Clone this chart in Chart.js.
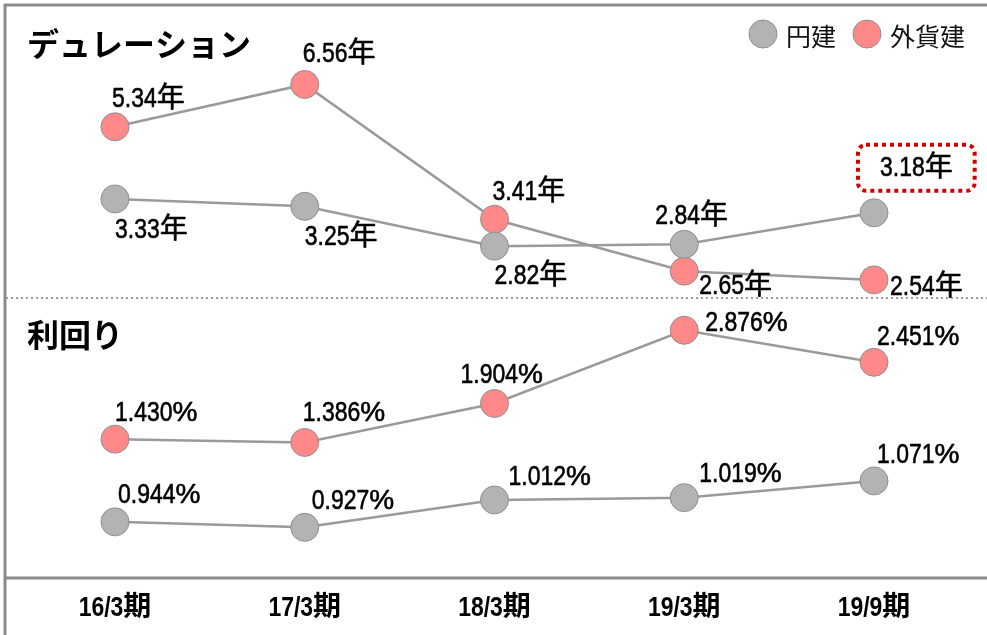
<!DOCTYPE html>
<html>
<head>
<meta charset="utf-8">
<script src="https://cdn.jsdelivr.net/npm/chart.js@4.4.1/dist/chart.umd.min.js"></script>
<style>
html,body{margin:0;padding:0;background:#fff;}
#wrap{position:relative;width:987px;height:635px;}
canvas{display:block;}
</style>
</head>
<body>
<div id="wrap"><canvas id="c" width="987" height="635"></canvas></div>
<script>
// ---- data ----
const categories = ['16/3期', '17/3期', '18/3期', '19/3期', '19/9期'];
const durationYen = [3.33, 3.25, 2.82, 2.84, 3.18];
const durationFx  = [5.34, 6.56, 3.41, 2.65, 2.54];
const yieldYen    = [0.944, 0.927, 1.012, 1.019, 1.071];
const yieldFx     = [1.430, 1.386, 1.904, 2.876, 2.451];
const seriesNames = ['円建', '外貨建'];
const panelTitles = ['デュレーション', '利回り'];

// ---- styles ----
const YEN_FILL = '#b3b3b3';
const FX_FILL = '#ff8888';
const PT_BORDER = '#8f8f8f';
const LINE = '#9a9a9a';
const NUM_FONT = '"Liberation Sans","Noto Sans CJK JP",sans-serif';
const JP_FONT = '"Noto Sans CJK JP","Noto Sans",sans-serif';
const NARROW = 0.82;

// label placement offsets (left edge, vertical centre) relative to each point
const labelOffsets = {
  durFx:  [[-3,-28],[-2,-30],[-2,-27],[15,15],[16,7]],
  durYen: [[0,31],[0,31],[0,30],[-29,-28],[6,-45]],
  yldFx:  [[0,-26],[-2,-29],[-34,-28],[21,-7],[3,-25]],
  yldYen: [[3,-27],[7,-26],[14,-23],[15,-23],[3,-26]]
};

function ds(data, fill, axis, key, fmt) {
  return {
    data: data, yAxisID: axis, key: key, fmt: fmt,
    borderColor: LINE, borderWidth: 2.5,
    pointBackgroundColor: fill, pointBorderColor: PT_BORDER, pointBorderWidth: 1,
    pointRadius: 14, pointHoverRadius: 14, tension: 0, clip: false, fill: false
  };
}
const fmtDur = v => v.toFixed(2) + '年';
const fmtYld = v => v.toFixed(3) + '%';

// draws text with narrow digits (digits, '.', '/') and full-width other glyphs
function runs(txt) {
  const out = [];
  for (const ch of txt) {
    const narrow = /[0-9.\/]/.test(ch);
    if (out.length && out[out.length - 1].narrow === narrow) out[out.length - 1].t += ch;
    else out.push({ t: ch, narrow: narrow });
  }
  return out;
}
function mixedWidth(ctx, txt) {
  return runs(txt).reduce((s, r) => s + ctx.measureText(r.t).width * (r.narrow ? NARROW : 1), 0);
}
function mixedText(ctx, txt, x, y, align, thicken) {
  const w = mixedWidth(ctx, txt);
  let cx = align === 'center' ? x - w / 2 : x;
  ctx.textAlign = 'left';
  runs(txt).forEach(r => {
    const s = r.narrow ? NARROW : 1;
    ctx.save();
    ctx.translate(cx, y);
    ctx.scale(s, 1);
    ctx.fillText(r.t, 0, 0);
    if (thicken) {
      ctx.strokeStyle = ctx.fillStyle;
      ctx.lineWidth = thicken;
      ctx.lineJoin = 'round';
      ctx.strokeText(r.t, 0, 0);
    }
    ctx.restore();
    cx += ctx.measureText(r.t).width * s;
  });
  return w;
}

const framePlugin = {
  id: 'frame',
  beforeDraw(chart) {
    const ctx = chart.ctx;
    ctx.save();
    ctx.fillStyle = '#fff';
    ctx.fillRect(0, 0, chart.width, chart.height);
    ctx.strokeStyle = '#8a8a8a';
    ctx.lineWidth = 3;
    ctx.beginPath();
    ctx.moveTo(4, 5); ctx.lineTo(chart.width, 5);
    ctx.moveTo(5, 4); ctx.lineTo(5, chart.height);
    ctx.moveTo(5, chart.chartArea.bottom); ctx.lineTo(chart.width, chart.chartArea.bottom);
    ctx.stroke();
    // dotted separator
    ctx.strokeStyle = '#9a9a9a';
    ctx.lineWidth = 2;
    ctx.setLineDash([2, 3]);
    ctx.beginPath();
    ctx.moveTo(6, 298); ctx.lineTo(chart.width, 298);
    ctx.stroke();
    ctx.setLineDash([]);
    // panel titles
    ctx.fillStyle = '#000';
    ctx.font = 'bold 32px ' + JP_FONT;
    ctx.textBaseline = 'middle';
    ctx.textAlign = 'left';
    ctx.fillText(panelTitles[0], 27, 44);
    ctx.fillText(panelTitles[1], 27, 335);
    // legend
    const items = [[seriesNames[0], YEN_FILL, 763], [seriesNames[1], FX_FILL, 867]];
    ctx.font = '25px ' + JP_FONT;
    items.forEach(([name, col, cx]) => {
      ctx.beginPath();
      ctx.arc(cx, 34, 14, 0, Math.PI * 2);
      ctx.fillStyle = col; ctx.fill();
      ctx.strokeStyle = PT_BORDER; ctx.lineWidth = 1; ctx.stroke();
      ctx.fillStyle = '#111';
      ctx.fillText(name, cx + 23, 36);
    });
    // category labels, placed by the x scale
    const xs = chart.scales.x;
    ctx.font = 'bold 28px ' + NUM_FONT;
    ctx.fillStyle = '#000';
    categories.forEach((c, i) => {
      mixedText(ctx, c, xs.getPixelForValue(i), 608, 'center', 0);
    });
    ctx.restore();
  }
};

const labelPlugin = {
  id: 'ptlabels',
  afterDatasetsDraw(chart) {
    const ctx = chart.ctx;
    ctx.save();
    ctx.font = '28px ' + NUM_FONT;
    ctx.fillStyle = '#000';
    ctx.textBaseline = 'middle';
    chart.data.datasets.forEach((d, i) => {
      const meta = chart.getDatasetMeta(i);
      meta.data.forEach((pt, j) => {
        const off = labelOffsets[d.key][j];
        const txt = d.fmt(d.data[j]);
        const x = pt.x + off[0], y = pt.y + off[1];
        const w = mixedText(ctx, txt, x, y, 'left', 0.6);
        if (d.key === 'durYen' && j === d.data.length - 1) {
          ctx.save();
          ctx.strokeStyle = '#d40000';
          ctx.lineWidth = 4;
          ctx.setLineDash([4, 4]);
          ctx.beginPath();
          ctx.roundRect(x - 22, y - 23, w + 44, 46, 8);
          ctx.stroke();
          ctx.restore();
        }
      });
    });
    ctx.restore();
  }
};

new Chart(document.getElementById('c'), {
  type: 'line',
  data: {
    labels: categories,
    datasets: [
      ds(durationYen, YEN_FILL, 'yDurYen', 'durYen', fmtDur),
      ds(durationFx, FX_FILL, 'yDurFx', 'durFx', fmtDur),
      ds(yieldYen, YEN_FILL, 'yYldYen', 'yldYen', fmtYld),
      ds(yieldFx, FX_FILL, 'yYldFx', 'yldFx', fmtYld)
    ]
  },
  options: {
    responsive: false,
    animation: false,
    events: [],
    layout: { padding: { left: 115, right: 113, top: 6, bottom: 0 } },
    plugins: { legend: { display: false }, tooltip: { enabled: false } },
    scales: {
      x: {
        type: 'category', offset: false,
        grid: { display: false, drawTicks: false },
        border: { display: false },
        ticks: { display: false },
        afterFit(scale) { scale.height = 57; }
      },
      yDurYen: { display: false, min: -0.763, max: 5.316 },
      yDurFx:  { display: false, type: 'logarithmic', min: 0.5976, max: 9.19 },
      yYldYen: { display: false, min: 0.7699, max: 2.516 },
      yYldFx:  { display: false, min: -0.414, max: 7.063 }
    }
  },
  plugins: [framePlugin, labelPlugin]
});
</script>
</body>
</html>
